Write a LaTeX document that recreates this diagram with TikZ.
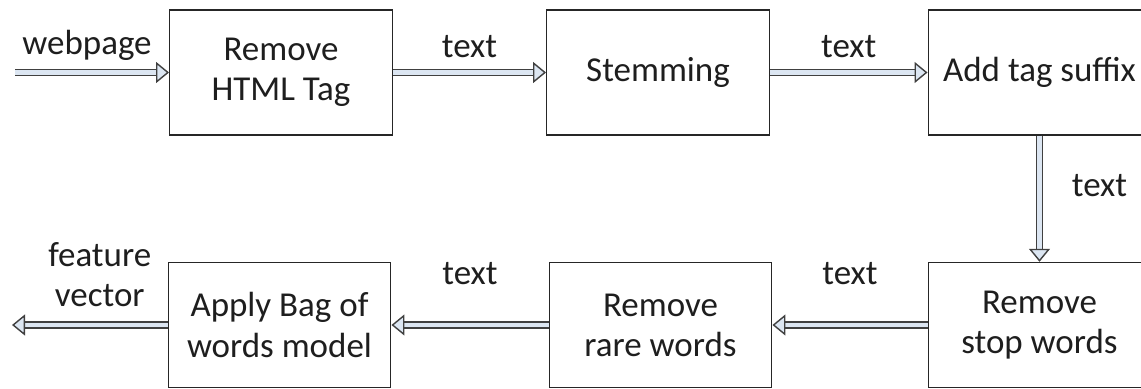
\documentclass[tikz,border=0pt]{standalone}
\usepackage{fontspec}
\setmainfont{Carlito}
\usetikzlibrary{arrows.meta}

\definecolor{pipefill}{RGB}{220,230,242}
\definecolor{pipeline}{RGB}{64,64,64}
\definecolor{inktext}{RGB}{30,30,30}

\tikzset{
    stage/.style={draw=black!85, line width=0.8pt, minimum width=4.45cm,
        minimum height=2.5cm, align=center, text=inktext,
        font=\fontsize{19.9}{22.8}\selectfont},
    pipe/.style={draw=pipeline, line width=0.8pt, double=pipefill,
        double distance=2.6pt,
        -{Triangle[open, fill=pipefill, length=0.26cm, width=0.42cm]}},
    flowtag/.style={text=inktext, align=center,
        font=\fontsize{19.9}{22.8}\selectfont}
}

\begin{document}
\begin{tikzpicture}
    \useasboundingbox (0,0) rectangle (22.82,7.76);
    \clip (0,0) rectangle (22.82,7.76);

    % Fila superior
    \node[stage] (remtag) at (5.62,6.31) {Remove\\HTML Tag};
    \node[stage] (stem) at (13.16,6.31) {Stemming};
    \node[stage] (suffix) at (20.79,6.31) {Add tag suffix};

    % Fila inferior
    \node[stage] (stopw) at (20.79,1.26) {Remove\\stop words};
    \node[stage] (rarew) at (13.21,1.26) {Remove\\rare words};
    \node[stage] (bagw) at (5.59,1.26) {Apply Bag of\\words model};

    % Entrada y salida
    \coordinate (src) at (0.3,6.31);
    \coordinate (sink) at (0.24,1.26);

    \draw[pipe] (src) -- node[flowtag, yshift=0.55cm, xshift=-0.1cm] {webpage} (remtag);
    \draw[pipe] (remtag) -- node[flowtag, yshift=0.51cm] {text} (stem);
    \draw[pipe] (stem) -- node[flowtag, yshift=0.51cm] {text} (suffix);
    \draw[pipe] (suffix) -- node[flowtag, xshift=1.2cm, yshift=0.27cm] {text} (stopw);
    \draw[pipe] (stopw) -- node[flowtag, yshift=1.02cm] {text} (rarew);
    \draw[pipe] (rarew) -- node[flowtag, yshift=1.02cm] {text} (bagw);
    \draw[pipe] (bagw) -- node[flowtag, xshift=0.2cm, yshift=1.0cm] {feature\\vector} (sink);

\end{tikzpicture}
\end{document}
